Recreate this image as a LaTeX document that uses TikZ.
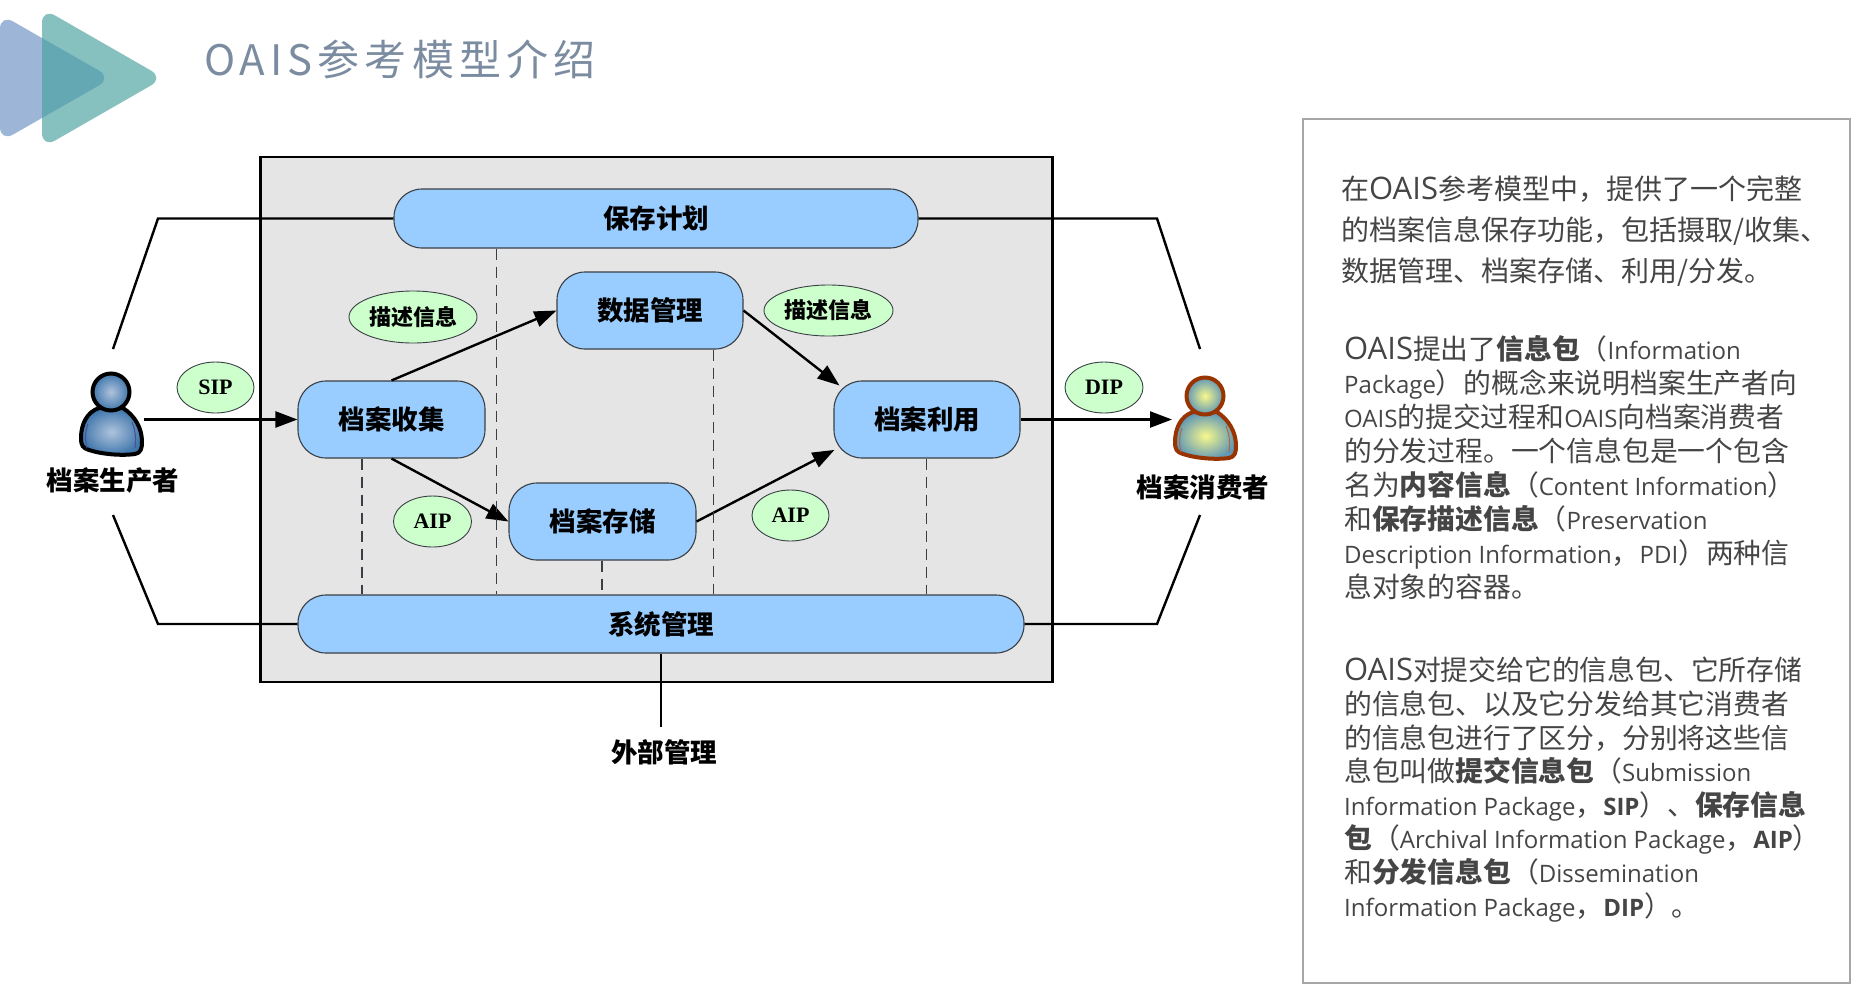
\documentclass[tikz,border=0pt]{standalone}
\usepackage{fontspec}
\usepackage{xcolor}
\usepackage{tikz}
\usetikzlibrary{arrows.meta, shapes.geometric}
\setmainfont{Noto Sans CJK SC}
\newfontfamily\titlefont[LetterSpace=12]{Noto Sans CJK SC}
\newfontfamily\latinfont{Open Sans}
\newfontfamily\bubblefont{Liberation Serif}
\newcommand{\latword}[1]{{\latinfont\fontsize{24}{33.6}\selectfont #1}}
\newcommand{\latbig}[1]{{\latinfont\fontsize{31}{33.6}\selectfont #1}}
\definecolor{nGrey}{HTML}{E5E5E5}
\definecolor{nBlue}{HTML}{99CCFF}
\definecolor{nGreen}{HTML}{CCFFCC}
\definecolor{nEdge}{HTML}{3A3F45}
\definecolor{nTitle}{HTML}{7B8CA0}
\definecolor{nPanel}{HTML}{A6A6A6}
\definecolor{nText}{HTML}{454545}
\definecolor{nLeft}{HTML}{9DB6D8}
\definecolor{nRight}{HTML}{86C1BF}
\definecolor{nBoth}{HTML}{64A8B4}
\definecolor{nProdIn}{HTML}{AFC3DC}
\definecolor{nProdOut}{HTML}{3F76AC}
\definecolor{nProdArm}{HTML}{4A4F95}
\definecolor{nUserIn}{HTML}{F8F88C}
\definecolor{nUserOut}{HTML}{5F97B5}
\definecolor{nUserInk}{HTML}{993300}
\definecolor{nUserArm}{HTML}{A9664A}
\tikzset{
  procbox/.style={draw=nEdge, line width=1.1pt, fill=nBlue, rounded corners=28pt, inner sep=0pt,
    font=\fontsize{26.5}{30}\selectfont\bfseries, text=black},
  bubble/.style={ellipse, draw=nEdge, line width=0.9pt, fill=nGreen, inner sep=0pt,
    font=\bubblefont\fontsize{22}{24}\selectfont\bfseries, text=black},
  tagbubble/.style={bubble, font=\fontsize{22}{24}\selectfont\bfseries},
  wire/.style={line width=2.4pt, black},
  dashwire/.style={line width=1.6pt, nEdge, dash pattern=on 11pt off 7pt},
  sidelabel/.style={font=\fontsize{26.5}{30}\selectfont\bfseries, text=black, inner sep=0pt},
  paratext/.style={anchor=north west, align=left, inner sep=0pt, text=nText}
}
\begin{document}
\begin{tikzpicture}[x=1pt, y=-1pt, >={Triangle[length=22pt, width=16pt]}]
  \useasboundingbox (0,0) rectangle (1855,989);
  % logo
  \fill[nLeft, rounded corners=15pt] (0,14) -- (112,78) -- (0,142) -- cycle;
  \fill[nRight, rounded corners=15pt] (42,8) -- (164,78) -- (42,148) -- cycle;
  \begin{scope}
    \clip[rounded corners=15pt] (42,8) -- (164,78) -- (42,148) -- cycle;
    \fill[nBoth, rounded corners=15pt] (0,14) -- (112,78) -- (0,142) -- cycle;
  \end{scope}
  \node[anchor=west, inner sep=0pt, text=nTitle, font=\titlefont\fontsize{42}{46}\selectfont] (title) at (204,59) {OAIS参考模型介绍};

  % grey system area
  \node[draw=black, line width=2.2pt, fill=nGrey, inner sep=0pt, minimum width=792pt, minimum height=525pt] (oais) at (656.5,419.5) {};

  % functional entities
  \node[procbox, minimum width=524pt, minimum height=59pt] (plan) at (656,218.5) {保存计划};
  \node[procbox, minimum width=726pt, minimum height=58pt] (admin) at (661,624) {系统管理};
  \node[procbox, minimum width=187pt, minimum height=77pt] (ingest) at (391.5,419.5) {档案收集};
  \node[procbox, minimum width=186pt, minimum height=77pt] (datamgmt) at (650,310.5) {数据管理};
  \node[procbox, minimum width=187pt, minimum height=77pt] (archive) at (602.5,521.5) {档案存储};
  \node[procbox, minimum width=186pt, minimum height=77pt] (access) at (927,419.5) {档案利用};

  % packages
  \node[bubble, minimum width=77pt, minimum height=51pt] (sip) at (215.5,387.5) {SIP};
  \node[bubble, minimum width=78pt, minimum height=51pt] (dip) at (1104,387.5) {DIP};
  \node[bubble, minimum width=78pt, minimum height=51pt] (aipa) at (432.5,521.5) {AIP};
  \node[bubble, minimum width=77pt, minimum height=51pt] (aipb) at (790.5,515.5) {AIP};
  \node[tagbubble, minimum width=128pt, minimum height=52pt] (desca) at (413,317) {描述信息};
  \node[tagbubble, minimum width=129pt, minimum height=51pt] (descb) at (828.5,310.5) {描述信息};

  % people
  \foreach \px/\py/\pink/\pin/\pout/\parm in {111/392/black/nProdIn/nProdOut/nProdArm, 1205/396/nUserInk/nUserIn/nUserOut/nUserArm} {
    \begin{scope}[shift={(\px,\py)}]
      \shade[draw=\pink, line width=4pt, line join=round, inner color=\pin, outer color=\pout]
        (-12,16) .. controls (-24,20) and (-30,32) .. (-30,46) .. controls (-30,54) and (-28,56) .. (-22,58)
        .. controls (-10,62) and (10,64) .. (24,62) .. controls (30,61) and (31,56) .. (31,50)
        .. controls (31,36) and (24,24) .. (12,16) -- cycle;
      \draw[\parm, line width=1pt] (-23,32) .. controls (-26,40) and (-26,48) .. (-24,56);
      \draw[\parm, line width=1pt] (21,30) .. controls (25,40) and (25,48) .. (24,56);
      \shade[draw=\pink, line width=4pt, inner color=\pin, outer color=\pout] (0,0) circle (18.5);
    \end{scope}
  }
  \node[sidelabel] (producer) at (113,480) {档案生产者};
  \node[sidelabel] (consumer) at (1203,487) {档案消费者};
  \node[sidelabel] (external) at (664,752) {外部管理};

  % free ends of the wires
  \coordinate (prodOut) at (144,419.5);
  \coordinate (userIn) at (1172,419.5);
  \coordinate (prodUp) at (113,349);
  \coordinate (prodDown) at (113,515);
  \coordinate (userUp) at (1200,349);
  \coordinate (userDown) at (1200,515);
  \coordinate (kneeL) at (158,0);
  \coordinate (kneeR) at (1157,0);
  \coordinate (extEnd) at (661,727);

  \draw[wire] (prodUp) -- (kneeL |- plan.west) -- (plan.west);
  \draw[wire] (prodDown) -- (kneeL |- admin.west) -- (admin.west);
  \draw[wire] (userUp) -- (kneeR |- plan.east) -- (plan.east);
  \draw[wire] (userDown) -- (kneeR |- admin.east) -- (admin.east);
  \draw[wire] (admin.south -| extEnd) -- (extEnd);

  \draw[wire, ->] (prodOut) -- (ingest.west);
  \draw[wire, ->] (access.east) -- (userIn);
  \draw[wire, ->] (ingest.north) -- (datamgmt.west);
  \draw[wire, ->] (ingest.south) -- (archive.west);
  \draw[wire, ->] (archive.east) -- ([xshift=1pt]access.198);
  \draw[wire, ->] (datamgmt.east) -- ([xshift=6pt]access.160);

  % dashed links to the administration bar
  \foreach \dx/\dfrom in {362/ingest.south, 496.5/plan.south, 602/archive.south, 713.5/datamgmt.south, 926.5/access.south} {
    \coordinate (dashx) at (\dx,0);
    \draw[dashwire] (\dfrom -| dashx) -- (admin.north -| dashx);
  }

  % explanation panel
  \node[draw=nPanel, line width=2pt, inner sep=0pt, minimum width=547pt, minimum height=864pt] (panel) at (1576.5,550.5) {};
  \node[paratext, font=\fontsize{28}{41}\selectfont] (parafirst) at (1341,176) {在{\latinfont\fontsize{31}{41}\selectfont OAIS}参考模型中，提供了一个完整\\的档案信息保存功能，包括摄取/收集、\\数据管理、档案存储、利用/分发。};
  \node[paratext, font=\fontsize{27.8}{34}\selectfont] (parasecond) at (1344,335) {\latbig{OAIS}提出了\textbf{信息包}（\latword{Information}\\\latword{Package}）的概念来说明档案生产者向\\\latword{OAIS}的提交过程和\latword{OAIS}向档案消费者\\的分发过程。一个信息包是一个包含\\名为\textbf{内容信息}（\latword{Content Information}）\\和\textbf{保存描述信息}（\latword{Preservation}\\\latword{Description Information}，\latword{PDI}）两种信\\息对象的容器。};
  \node[paratext, font=\fontsize{27.8}{33.6}\selectfont] (parathird) at (1344,657) {\latbig{OAIS}对提交给它的信息包、它所存储\\的信息包、以及它分发给其它消费者\\的信息包进行了区分，分别将这些信\\息包叫做\textbf{提交信息包}（\latword{Submission}\\\latword{Information Package}，\latword{\textbf{SIP}}）、\textbf{保存信息}\\\textbf{包}（\latword{Archival Information Package}，\latword{\textbf{AIP}}）\\和\textbf{分发信息包}（\latword{Dissemination}\\\latword{Information Package}，\latword{\textbf{DIP}}）。};
\end{tikzpicture}
\end{document}
